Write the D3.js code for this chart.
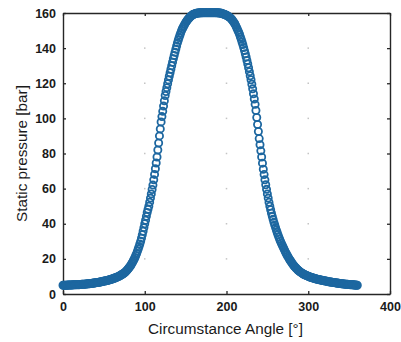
<!DOCTYPE html>
<html>
<head>
<meta charset="utf-8">
<script src="https://cdn.jsdelivr.net/npm/d3@7"></script>
<style>
  html, body { margin: 0; padding: 0; background: #fff; }
  svg { display: block; }
  text { font-family: "Liberation Sans", Arial, Helvetica, sans-serif; fill: #1a1a1a; }
</style>
</head>
<body>
<svg id="chart" width="401" height="342"></svg>
<script>
// ---- Data ----
const angleStart = 0;     // degrees, one sample per degree
const pressure = [
  5.0,5.0,5.0,5.0,5.0,5.0,5.1,5.1,5.1,5.1,
  5.1,5.1,5.2,5.2,5.2,5.2,5.3,5.3,5.3,5.3,
  5.3,5.4,5.4,5.5,5.5,5.5,5.6,5.6,5.7,5.7,
  5.8,5.8,5.9,5.9,6.0,6.0,6.1,6.2,6.2,6.3,
  6.4,6.5,6.5,6.6,6.7,6.8,6.9,7.0,7.1,7.2,
  7.3,7.4,7.5,7.6,7.7,7.8,8.0,8.1,8.2,8.4,
  8.5,8.7,8.9,9.0,9.2,9.4,9.6,9.8,10.0,10.2,
  10.5,10.8,11.1,11.4,11.7,12.0,12.4,12.9,13.4,13.9,
  14.5,15.1,15.7,16.4,17.2,18.0,18.9,19.8,20.8,21.9,
  23.0,24.3,25.6,27.0,28.5,30.0,31.8,33.7,35.7,37.8,
  40.0,42.0,44.2,46.4,48.2,50.0,52.3,54.6,57.0,59.5,
  62.0,65.0,68.1,71.3,74.6,78.0,82.0,86.0,90.0,94.0,
  98.0,101.0,104.0,107.0,110.0,113.0,115.3,117.5,119.7,121.9,
  124.0,126.0,128.0,130.0,132.0,134.0,135.8,137.6,139.4,141.2,
  143.0,144.5,146.0,147.4,148.7,150.0,151.0,151.9,152.8,153.7,
  154.5,155.2,155.9,156.5,157.0,157.5,158.0,158.4,158.8,159.1,
  159.3,159.5,159.7,159.8,159.9,160.0,160.0,160.1,160.1,160.1,
  160.1,160.2,160.2,160.2,160.2,160.2,160.2,160.2,160.2,160.2,
  160.2,160.2,160.2,160.2,160.2,160.2,160.2,160.2,160.1,160.1,
  160.1,160.0,160.0,159.9,159.8,159.6,159.5,159.3,159.1,158.9,
  158.7,158.4,158.1,157.8,157.5,157.1,156.6,156.0,155.4,154.7,
  154.0,153.1,152.1,151.1,150.0,149.0,147.8,146.4,145.0,143.5,
  142.0,140.3,138.6,136.8,135.0,133.0,131.0,128.8,126.6,124.3,
  122.0,119.4,116.8,114.0,111.0,108.0,104.5,100.5,96.5,92.5,
  88.5,85.0,81.5,78.0,74.5,71.0,68.0,65.0,62.2,59.6,
  57.0,54.6,52.2,50.0,48.0,46.0,44.2,42.5,40.8,39.3,
  37.8,36.4,35.0,33.7,32.4,31.2,30.1,29.0,28.0,27.0,
  26.0,25.0,24.0,23.1,22.2,21.4,20.6,19.8,19.1,18.4,
  17.7,17.0,16.4,15.8,15.3,14.8,14.3,13.8,13.4,13.0,
  12.6,12.3,12.0,11.7,11.4,11.1,10.9,10.7,10.5,10.3,
  10.1,9.9,9.7,9.5,9.4,9.2,9.1,8.9,8.8,8.7,
  8.5,8.4,8.3,8.2,8.1,8.0,7.9,7.8,7.7,7.6,
  7.5,7.4,7.3,7.2,7.1,7.0,6.9,6.9,6.8,6.7,
  6.6,6.5,6.5,6.4,6.3,6.2,6.2,6.1,6.0,6.0,
  5.9,5.9,5.8,5.7,5.7,5.6,5.6,5.5,5.5,5.4,
  5.4,5.3,5.3,5.3,5.2,5.2,5.1,5.1,5.1,5.0,
  5.0
];
const xTicks = [0, 100, 200, 300, 400];
const yTicks = [0, 20, 40, 60, 80, 100, 120, 140, 160];
const xLabel = "Circumstance Angle [°]";
const yLabel = "Static pressure [bar]";

(function () {
  const svg = d3.select("#chart");
  const mL = 63, mR = 390, mT = 13, mB = 294;
  const x = d3.scaleLinear().domain([0, 400]).range([mL, mR]);
  const y = d3.scaleLinear().domain([0, 160]).range([mB, mT]);

  const points = pressure.map((v, i) => ({ a: angleStart + i, p: v }));

  // grid intersection dots
  const grid = svg.append("g");
  xTicks.slice(1, -1).forEach(xt => {
    yTicks.slice(1, -1).forEach(yt => {
      grid.append("rect")
        .attr("x", x(xt) - 0.75).attr("y", y(yt) - 0.75)
        .attr("width", 1.5).attr("height", 1.5)
        .attr("fill", "#c4c4c4");
    });
  });

  // axes (ticks inward)
  const tickLen = 3;
  const axB = svg.append("g").attr("transform", `translate(0,${mB})`)
    .call(d3.axisBottom(x).tickValues(xTicks).tickSizeInner(-tickLen).tickSizeOuter(0).tickPadding(8));
  const axL = svg.append("g").attr("transform", `translate(${mL},0)`)
    .call(d3.axisLeft(y).tickValues(yTicks).tickSizeInner(-tickLen).tickSizeOuter(0).tickPadding(7));
  const axT = svg.append("g").attr("transform", `translate(0,${mT})`)
    .call(d3.axisTop(x).tickValues(xTicks).tickSizeInner(-tickLen).tickSizeOuter(0).tickFormat(""));
  const axR = svg.append("g").attr("transform", `translate(${mR},0)`)
    .call(d3.axisRight(y).tickValues(yTicks).tickSizeInner(-tickLen).tickSizeOuter(0).tickFormat(""));

  [axB, axL, axT, axR].forEach(g => {
    g.select(".domain").attr("stroke", "#262626").attr("stroke-width", 1.4);
    g.selectAll(".tick line").attr("stroke", "#262626").attr("stroke-width", 1.3);
    g.selectAll(".tick text").attr("font-size", 12.5).attr("font-weight", "bold")
      .attr("fill", "#222").attr("font-family", "Liberation Sans, Arial, sans-serif");
  });

  // markers
  svg.append("g")
    .selectAll("circle")
    .data(points)
    .join("circle")
    .attr("cx", d => x(d.a))
    .attr("cy", d => y(d.p))
    .attr("r", 3.6)
    .attr("fill", "none")
    .attr("stroke", "#1d67a0")
    .attr("stroke-width", 1.8);

  // axis labels
  svg.append("text")
    .attr("x", 225.5).attr("y", 334)
    .attr("text-anchor", "middle").attr("font-size", 15.3)
    .text(xLabel);
  svg.append("text")
    .attr("transform", `translate(27,${(mT + mB) / 2}) rotate(-90)`)
    .attr("text-anchor", "middle").attr("font-size", 15.3)
    .text(yLabel);
})();
</script>
</body>
</html>
